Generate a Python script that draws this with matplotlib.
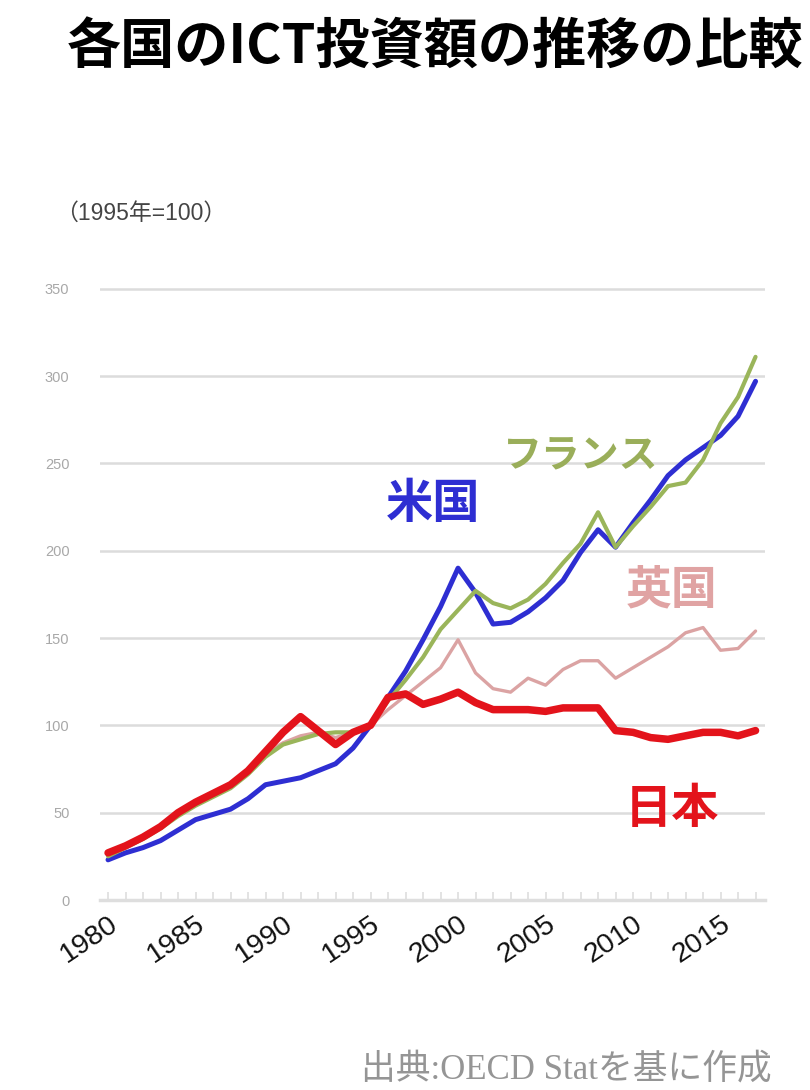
import matplotlib
matplotlib.use("Agg")
import matplotlib.pyplot as plt
from matplotlib.ticker import MultipleLocator

plt.rcParams['font.family'] = ['Noto Sans CJK JP', 'DejaVu Sans']

years = list(range(1980, 2018))

japan = [27, 31, 36, 42, 50, 56, 61, 66, 74, 85, 96, 105, 97, 89, 96, 100,
         116, 118, 112, 115, 119, 113, 109, 109, 109, 108, 110, 110, 110, 97,
         96, 93, 92, 94, 96, 96, 94, 97]
usa = [23, 27, 30, 34, 40, 46, 49, 52, 58, 66, 68, 70, 74, 78, 87, 100,
       116, 131, 149, 168, 190, 176, 158, 159, 165, 173, 183, 199, 212, 202,
       216, 229, 243, 252, 259, 266, 277, 297]
france = [25, 30, 35, 41, 48, 54, 59, 64, 72, 82, 89, 92, 95, 96, 96, 100,
          114, 126, 139, 155, 166, 177, 170, 167, 172, 181, 193, 204, 222, 202,
          214, 225, 237, 239, 252, 273, 288, 311]
uk = [26, 31, 35, 42, 49, 55, 60, 66, 74, 84, 90, 94, 96, 93, 96, 100,
      109, 117, 125, 133, 149, 130, 121, 119, 127, 123, 132, 137, 137, 127,
      133, 139, 145, 153, 156, 143, 144, 154]

series_names = ['英国', '米国', 'フランス', '日本']
series_colors = ['#dba3a3', '#2e2ed2', '#9ab55a', '#e3131b']
series_widths = [2.4, 3.6, 3.0, 5.4]

tick_years = [1980, 1985, 1990, 1995, 2000, 2005, 2010, 2015]
y_ticks = [0, 50, 100, 150, 200, 250, 300, 350]

fig = plt.figure(figsize=(8.1, 10.9), dpi=100)
fig.patch.set_facecolor('white')
ax = fig.add_axes([100 / 810, 190 / 1090, 665 / 810, 620 / 1090])

for name, data, color, lw in zip(series_names, [uk, usa, france, japan],
                                 series_colors, series_widths):
    ax.plot(years, data, color=color, lw=lw, solid_joinstyle='round',
            solid_capstyle='round', zorder=3)

ax.set_xlim(1979.54, 2017.54)
ax.set_ylim(0, 355)
ax.set_yticks(y_ticks)
ax.set_yticklabels([str(v) for v in y_ticks], color='#a8a8a8', fontsize=10.5,
                   family=['Liberation Sans'])
ax.tick_params(axis='y', length=0, pad=22)
ax.yaxis.grid(True, color='#dcdcdc', lw=1.8, zorder=0)
ax.set_axisbelow(True)

ax.set_xticks(tick_years)
ax.set_xticklabels([str(y) for y in tick_years], rotation=34, ha='right',
                   va='top', rotation_mode='anchor', fontsize=20.5,
                   color='#111111', family=['Liberation Sans'])
ax.xaxis.set_minor_locator(MultipleLocator(1))
ax.tick_params(axis='x', which='both', length=6, width=1.2, color='#dedede',
               direction='in', pad=8)

for side in ['left', 'right', 'top']:
    ax.spines[side].set_visible(False)
ax.spines['bottom'].set_color('#dedede')
ax.spines['bottom'].set_linewidth(2.5)

# Series labels placed next to their lines
ax.text(1998.6, 227, '米国', color='#2e2ed2', fontsize=34,
        fontweight='bold', ha='center', va='center')
ax.text(2007.0, 254, 'フランス', color='#9aae5a', fontsize=28,
        fontweight='bold', ha='center', va='center')
ax.text(2012.2, 177, '英国', color='#e0a3a3', fontsize=33,
        fontweight='bold', ha='center', va='center')
ax.text(2012.2, 52, '日本', color='#e3131b', fontsize=34,
        fontweight='bold', ha='center', va='center')

fig.text(435 / 810, 1 - 47 / 1090, '各国のICT投資額の推移の比較',
         fontsize=39, fontweight='bold', color='black',
         ha='center', va='center')
fig.text(55 / 810, 1 - 213 / 1090, '（1995年=100）', fontsize=16.5,
         color='#444444', ha='left', va='center',
         family=['Liberation Sans', 'Noto Sans CJK JP'])
fig.text(772 / 810, 1 - 1070 / 1090, '出典:OECD Statを基に作成', fontsize=25,
         color='#959595', ha='right', va='center',
         family=['Liberation Serif', 'Noto Sans CJK JP'])

fig.savefig('out.png', dpi=100, facecolor='white')
